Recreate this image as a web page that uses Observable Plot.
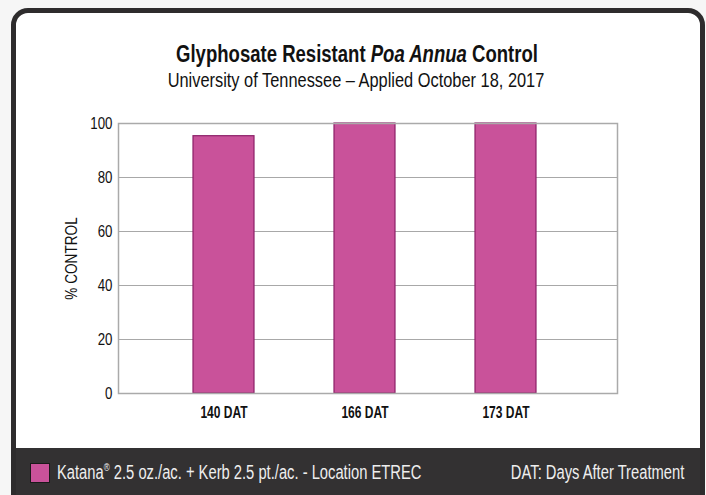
<!DOCTYPE html>
<html><head><meta charset="utf-8">
<script src="https://cdn.jsdelivr.net/npm/d3@7"></script>
<script src="https://cdn.jsdelivr.net/npm/@observablehq/plot@0.6"></script>
<style>
html,body{margin:0;padding:0;background:#f6f6f6;width:706px;height:495px;overflow:hidden;font-family:"Liberation Sans",sans-serif;}
#card{position:absolute;left:11px;top:8px;width:684px;height:520px;border:5px solid #2e2c2d;border-radius:17px;background:#fff;overflow:hidden;}
#footer{position:absolute;left:0;top:435px;width:100%;height:100px;background:#333132;}
.t{position:absolute;white-space:nowrap;line-height:normal;}
#title{left:4px;width:706px;top:41px;text-align:center;font-size:23px;font-weight:bold;color:#111;transform:scaleX(0.806);transform-origin:center;}
#sub{left:3px;width:706px;top:68px;text-align:center;font-size:21px;color:#111;transform:scaleX(0.78);transform-origin:center;}
#sw{position:absolute;left:30px;top:463px;width:18px;height:18px;background:#c9529a;border:1px solid #1a1a1a;}
#leg{left:57px;top:461px;font-size:20px;color:#eee;transform:scaleX(0.737);transform-origin:left;}
#leg sup{font-size:11px;}
#dat{right:22px;top:461px;font-size:20px;color:#eee;transform:scaleX(0.737);transform-origin:right;}
#chart{position:absolute;left:0;top:100px;}
</style></head>
<body>
<div id="card"><div id="footer"></div></div>
<div id="title" class="t">Glyphosate Resistant <i>Poa Annua</i> Control</div>
<div id="sub" class="t">University of Tennessee – Applied October 18, 2017</div>
<div id="chart"></div>
<div id="sw"></div>
<div id="leg" class="t">Katana<sup>®</sup> 2.5 oz./ac. + Kerb 2.5 pt./ac. - Location ETREC</div>
<div id="dat" class="t">DAT: Days After Treatment</div>
<script>
const categories = ["140 DAT", "166 DAT", "173 DAT"];
const values = [95.3, 100, 100];
const yTicks = [0, 20, 40, 60, 80, 100];
const data = categories.map((c, i) => ({cat: c, val: values[i]}));

const chart = Plot.plot({
  width: 706,
  height: 330,
  marginLeft: 118,
  marginRight: 89,
  marginTop: 23,
  marginBottom: 37,
  style: {fontFamily: '"Liberation Sans",sans-serif', background: "transparent", overflow: "visible"},
  x: {domain: categories, paddingInner: 0.57, paddingOuter: 0.55, align: 0.48, label: null},
  y: {domain: [0, 100], ticks: yTicks, label: null},
  marks: [
    Plot.gridY(yTicks.filter(d => d > 0 && d < 100), {stroke: "#a8a8a8", strokeOpacity: 1, strokeWidth: 1}),
    Plot.barY(data, {x: "cat", y: "val", fill: "#c9529a", stroke: "#8c2068", strokeWidth: 1.2}),
    Plot.frame({stroke: "#aaaaaa", strokeWidth: 1.5}),
    Plot.axisY({ticks: yTicks, tickSize: 0, tickPadding: 6, fontSize: 17, fill: "#111", label: null}),
    Plot.axisX({tickSize: 0, tickPadding: 13, fontSize: 16, fontWeight: "bold", fill: "#111", label: null}),
    Plot.text(["% CONTROL"], {frameAnchor: "left", dx: -47, rotate: -90, fontSize: 16, fill: "#111", textAnchor: "middle"})
  ]
});
document.getElementById("chart").appendChild(chart);
// condense the svg text to mimic a condensed typeface
d3.select(chart).selectAll("text").each(function() {
  const bold = this.closest("[font-weight='bold']") || this.getAttribute("font-weight") === "bold";
  const isLabel = this.textContent === "% CONTROL";
  const f = isLabel ? 0.85 : bold ? 0.75 : 0.78;
  const len = this.getComputedTextLength();
  this.setAttribute("textLength", len * f);
  this.setAttribute("lengthAdjust", "spacingAndGlyphs");
});
</script>
</body></html>
